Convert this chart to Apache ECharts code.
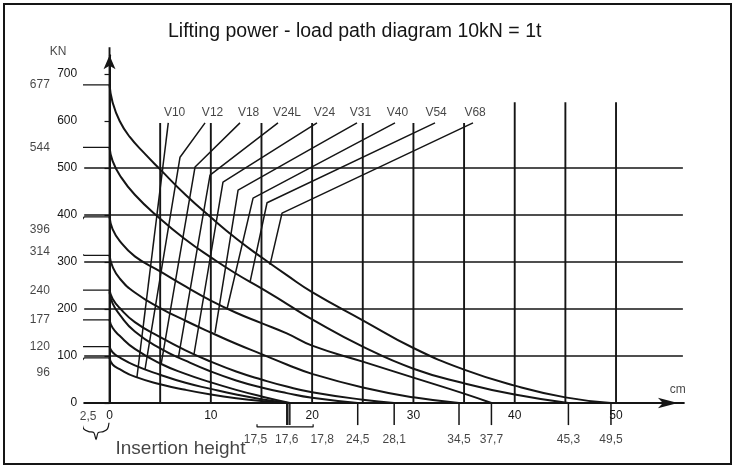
<!DOCTYPE html>
<html><head><meta charset="utf-8">
<script src="https://cdn.jsdelivr.net/npm/echarts@6/dist/echarts.min.js"></script>
<style>html,body{margin:0;padding:0;background:#fff}#c{width:735px;height:467px}</style>
</head><body><div id="c"></div>
<script>
// ---------- DATA ----------
const titleText = 'Lifting power - load path diagram 10kN = 1t';
const jackNames = ['V10','V12','V18','V24L','V24','V31','V40','V54','V68'];
// load-path curves [stroke cm, force kN]
const curveV68 = [[0,677],[0.3,640],[1,600],[2,566],[3.5,530],[5,497],[7.5,443],[10,395],[12.5,350],[15,310],[17.5,272],[20,236],[25,176],[30,117],[35,71],[40,37],[45,12],[49.5,0]];
const curveV54 = [[0,544],[0.3,515],[1,485],[2.5,443],[5,392],[7.5,348],[10,310],[12.5,275],[15,244],[17.5,211],[20,178],[25,120],[30,73],[35,42],[40,18],[45.3,0]];
const curveV40 = [[0,396],[0.3,370],[1,345],[2.5,312],[5,280],[7.5,248],[10,218],[12.5,192],[15,170],[17.5,148],[20,122],[25,88],[30,54],[35,20],[37.7,0]];
const curveV31 = [[0,314],[0.3,290],[1,265],[2.5,235],[5,202],[7.5,175],[10,150],[12.5,126],[15,104],[17.5,82],[20,62],[25,33],[30,12],[34.5,0]];
const curveV24 = [[0,240],[0.3,222],[1,202],[2.5,172],[5,140],[7.5,112],[10,88],[12.5,67],[15,50],[17.5,35],[20,23],[25,7],[28.1,0]];
const curveV24L = [[0,236],[0.3,212],[1,188],[2.5,152],[5,116],[7.5,90],[10,67],[12.5,48],[15,33],[17.5,21],[20,11],[24.5,0]];
const curveV18 = [[0,177],[0.3,160],[1,143],[2.5,115],[5,84],[7.5,62],[10,44],[12.5,28],[15,14],[17.8,0]];
const curveV12 = [[0,120],[0.3,108],[1,97],[2.5,80],[5,60],[7.5,43],[10,30],[12.5,18],[15,8],[17.6,0]];
const curveV10 = [[0,96],[0.3,82],[1,72],[2.5,56],[5,40],[7.5,28],[10,18],[12.5,10],[15,4],[17.5,0]];
// leader lines from the jack labels to their curves [top, kink, end]
const leaderV10 = [[5.8,596],[2.7,54]];
const leaderV12 = [[9.43,596],[6.96,523],[3.5,71]];
const leaderV18 = [[12.88,596],[8.44,502],[5.1,83]];
const leaderV24L = [[16.63,596],[9.92,485],[6.8,97]];
const leaderV24 = [[20.48,596],[11.2,470],[8.34,104]];
const leaderV31 = [[24.43,596],[12.69,453],[10.41,149]];
const leaderV40 = [[28.18,596],[14.17,436],[11.6,200]];
const leaderV54 = [[32.13,596],[15.55,426],[13.87,257]];
const leaderV68 = [[35.88,596],[17.03,404],[15.84,294]];
const jackLabelX = [6.42,10.17,13.73,17.52,21.22,24.78,28.43,32.24,36.09];
const jackLabelY = 618;
// start forces marked on the left
const refValues = [677,544,396,314,240,177,120,96];
const refLabelY = [677,544,368,321,240,177,120,64];
// strokes marked under the x axis
const strokeValues = [17.5,17.6,17.8,24.5,28.1,34.5,37.7,45.3,49.5];
const strokeLabels = ['17,5','17,6','17,8','24,5','28,1','34,5','37,7','45,3','49,5'];
const strokeLabelX = [14.4,17.5,21.0,24.5,28.1,34.5,37.7,45.3,49.5];
// grid
const hGridLevels = [100,200,300,400,500];
const vGridX = [5,10,15,20,25,30,35,40,45,50];
const vGridTop = [596,596,596,596,596,596,596,640,640,640];
const xTickLabels = [0,10,20,30,40,50];
const yTickLabels = [0,100,200,300,400,500,600,700];
const insertionOffset = 2.5;

// ---------- CHART ----------
const blk = '#151515';
const FONT = 'Liberation Sans, Arial, Helvetica, sans-serif';
const S = [];
function addLine(data, width, extra) {
  S.push(Object.assign({type:'line', data:data, symbol:'none', clip:false, silent:true,
    animation:false, lineStyle:{color:blk, width:width}, z:2}, extra || {}));
}
function addText(points, texts, pos, size, dist) {
  S.push({type:'scatter', clip:false, silent:true, animation:false, symbol:'circle', symbolSize:1,
    itemStyle:{color:'rgba(0,0,0,0)'}, z:5,
    data: points.map((p,i) => ({value:p, label:{formatter:texts[i]}})),
    label:{show:true, position:pos, distance:dist||0, color:blk, fontSize:size, fontFamily:FONT}});
}
const xMin = -insertionOffset, xMax = 56.7;
// grid lines
hGridLevels.forEach(v => addLine([[xMin,v],[56.6,v]], 1.4));
vGridX.forEach((x,i) => addLine([[x,0],[x,vGridTop[i]]], 1.9));
addLine([[0,0],[0,757]], 1.9);
// left reference leaders
const refLeaders = {
  677:[[-5.55,677],[0,677]],
  544:[[-5.55,544],[0,544]],
  396:[[-5.55,368],[-3.4,368],[-2.5,396],[0,396]],
  314:[[-5.55,321],[-3.0,321],[-2.5,314],[0,314]],
  240:[[-5.55,240],[0,240]],
  177:[[-5.55,177],[0,177]],
  120:[[-5.55,120],[0,120]],
  96:[[-5.55,64],[-3.6,64],[-2.5,96],[0,96]]
};
refValues.forEach(v => addLine(refLeaders[v], 1.2));
addText(refValues.map((v,i)=>[-5.55, refLabelY[i]]), refValues.map(String), 'left', 12, 3);
// stroke ticks below axis
strokeValues.forEach(x => addLine([[x,0],[x,-47]], 1.5));
addLine([[14.56,-45],[14.56,-51],[20.1,-51],[20.1,-45]], 1.2);
addText(strokeLabelX.map(x=>[x,-79]), strokeLabels, 'inside', 12);
// brace under insertion height
addLine([[-2.71,-42],[-2.55,-55],[-2.05,-61],[-1.55,-63],[-1.33,-78],[-1.12,-63],[-0.62,-61],[-0.2,-55],[-0.05,-42]], 1.2, {smooth:0.3});
addText([[-2.12,-30]], ['2,5'], 'inside', 12);
addText([[0.54,-98]], ['Insertion height'], 'right', 19, 0);
addText([[-5.08,747]], ['KN'], 'inside', 12);
addText([[56.1,28]], ['cm'], 'inside', 12);
// curves
const curves = [curveV10,curveV12,curveV18,curveV24L,curveV24,curveV31,curveV40,curveV54,curveV68];
curves.forEach(c => addLine(c, 2, {smooth:0.5}));
const leaders = [leaderV10,leaderV12,leaderV18,leaderV24L,leaderV24,leaderV31,leaderV40,leaderV54,leaderV68];
leaders.forEach(l => addLine(l, 1.5));
addText(jackLabelX.map(x=>[x,jackLabelY]), jackNames, 'inside', 12);

const chart = echarts.init(document.getElementById('c'), null, {renderer:'canvas'});
const pxPerX = 10.13, pxPerY = 0.47, yMax = 740;
chart.setOption({
  animation:false,
  backgroundColor:'#fff',
  title:{text:titleText, left:163, top:17, textStyle:{fontSize:19.5, fontWeight:'normal', color:blk, fontFamily:FONT}},
  graphic:[{type:'rect', shape:{x:4, y:4, width:727, height:460}, style:{fill:null, stroke:blk, lineWidth:2}, silent:true}],
  grid:{left:84.2, top:403 - yMax*pxPerY, width:(xMax-xMin)*pxPerX, height:yMax*pxPerY, containLabel:false},
  xAxis:{type:'value', min:xMin, max:xMax, interval:2.5,
    axisLine:{onZero:false, lineStyle:{color:blk, width:2}, symbol:['none','arrow'], symbolSize:[8,20], symbolOffset:[0,-6]},
    axisTick:{show:false}, splitLine:{show:false},
    axisLabel:{color:blk, fontSize:12, fontFamily:FONT, margin:7, showMaxLabel:false,
      formatter: v => { const r = Math.round(v); return (Math.abs(v-r)<1e-6 && xTickLabels.indexOf(r)>=0) ? String(r) : ''; }}},
  yAxis:{type:'value', min:0, max:yMax, interval:100,
    axisLine:{lineStyle:{color:blk, width:2}, symbol:['none','arrow'], symbolSize:[9,14]},
    axisTick:{show:true, length:5, lineStyle:{color:blk, width:1.2}}, splitLine:{show:false},
    axisLabel:{color:blk, fontSize:12, fontFamily:FONT, margin:7, showMaxLabel:false,
      formatter: v => yTickLabels.indexOf(v)>=0 ? String(v) : ''}},
  series:S
});
</script></body></html>
